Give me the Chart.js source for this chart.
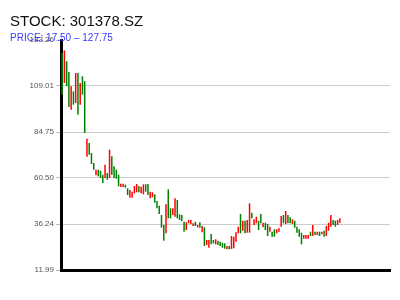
<!DOCTYPE html>
<html>
<head>
<meta charset="utf-8">
<script src="https://cdn.jsdelivr.net/npm/chart.js@4.4.1/dist/chart.umd.min.js"></script>
<style>
html,body{margin:0;padding:0;background:#fff;}
canvas{display:block;}
</style>
</head>
<body>
<canvas id="c" width="400" height="300"></canvas>
<script>
const titleText = "STOCK: 301378.SZ";
const subtitleText = "PRICE: 17.50 \u2013 127.75";
const yTicks = [11.99, 36.24, 60.50, 84.75, 109.01, 133.26];

// daily high / low prices, in trading-day order
const highs = [126.43,127.75,122.05,116.4,108.86,106.23,115.88,115.88,110.6,114.14,111.5,81.23,78.96,73.68,68.41,64.88,64.88,64.35,62.24,67.51,63.14,75.43,71.94,66.67,64.88,62.24,57.49,57.49,56.97,
55.07,54.17,53.27,56.28,57.34,56.28,55.91,57.18,57.18,57.34,53.27,52.96,51.9,48.37,45.89,40.99,35.71,46.63,54.54,44.52,44.52,49.79,48.9,41.36,40.99,37.45,37.14,38.35,38.35,36.61,37.45,35.71,37.14,35.19,34.5,
27.8,27.8,30.97,27.8,28.17,27.43,26.9,26.38,26.06,24.64,24.64,29.91,29.54,31.86,34.82,41.51,37.98,37.98,38.35,47.16,42.2,38.72,40.09,37.98,41.51,36.93,36.93,36.24,34.82,32.18,33.45,33.45,33.97,40.46,40.99,43.1,40.99,39.77,38.72,37.98,34.82,33.45,31.65,30.44,30.44,30.44,32.18,35.71,32.18,32.18,32.18,32.18,32.71,35.19,36.93,40.99,38.35,37.98,38.35,39.25];
const lows = [104.43,110.6,108.86,97.95,96.52,99.16,100.06,93.89,99.16,104.43,84.23,71.73,72.79,67.88,64.88,61.92,61.4,60.5,57.86,60.5,59.6,60.5,62.24,60.5,60.13,56.12,55.75,55.75,55.38,
51.53,50.11,50.11,52.43,52.96,52.96,52.43,51.9,53.27,51.53,49.79,50.32,47.47,44.52,41.51,34.29,27.43,31.34,39.25,39.25,40.99,40.09,39.25,38.35,37.82,32.18,33.08,36.61,36.24,35.19,35.19,34.5,34.29,31.86,24.64,
25.16,23.74,25.53,26.06,25.53,25.16,24.64,23.74,23.21,22.9,22.9,23.06,23.42,26.9,31.34,31.34,32.71,31.34,31.65,31.65,39.25,35.71,36.61,33.08,36.61,34.5,33.08,29.91,32.18,29.54,29.54,31.34,32.18,34.82,36.61,36.24,36.61,36.61,36.24,34.29,31.65,29.54,25.53,28.49,28.49,28.49,29.91,29.91,30.44,30.44,29.91,30.81,29.54,29.91,32.71,34.82,35.71,34.82,35.71,36.93];
// 1 = up day (red), 0 = down day (green)
const ups = [0,1,0,0,1,0,1,0,1,0,0,1,0,0,0,1,0,0,0,1,0,1,0,0,0,0,1,1,0,
0,1,1,1,1,0,1,1,0,0,1,1,0,0,0,0,0,1,0,0,1,1,0,0,0,0,1,1,1,1,0,1,0,1,0,
1,1,0,0,1,0,0,0,0,1,0,1,1,1,1,0,1,0,1,1,0,1,1,0,0,1,0,0,1,0,0,1,1,1,0,1,0,0,1,0,0,0,0,1,1,1,0,1,0,1,0,1,0,1,1,1,0,0,1,1];

const candles = highs.map((h, i) => ({x: i, y: [lows[i], h]}));
const colors = ups.map(u => u ? '#ff0000' : '#008000');

const textPlugin = {
  id: 'texts',
  afterDraw(chart) {
    const ctx = chart.ctx;
    ctx.save();
    ctx.textAlign = 'left';
    ctx.textBaseline = 'alphabetic';
    ctx.fillStyle = '#111';
    ctx.font = '15px "Liberation Sans", Arial, sans-serif';
    ctx.fillText(titleText, 10, 26);
    ctx.fillStyle = '#3a3aff';
    ctx.font = '10px "Liberation Sans", Arial, sans-serif';
    ctx.fillText(subtitleText, 10, 40.5);
    ctx.restore();
  }
};

new Chart(document.getElementById('c'), {
  type: 'bar',
  data: {
    datasets: [{
      data: candles,
      backgroundColor: colors,
      borderWidth: 0,
      inflateAmount: 0,
      barThickness: 1.5
    }]
  },
  options: {
    responsive: false,
    animation: false,
    layout: {padding: {top: 40, right: 10, left: 0, bottom: 0}},
    plugins: {legend: {display: false}, tooltip: {enabled: false}, title: {display: false}},
    scales: {
      x: {
        type: 'linear',
        offset: false,
        min: -0.5,
        max: 145.2,
        ticks: {display: false},
        grid: {display: false},
        border: {color: '#000', width: 3},
        afterFit(s) { s.height = 30; }
      },
      y: {
        min: yTicks[0],
        max: yTicks[yTicks.length - 1],
        afterBuildTicks(s) { s.ticks = yTicks.map(v => ({value: v})); },
        ticks: {
          callback: v => Number(v).toFixed(2),
          font: {size: 8, family: '"Liberation Sans", Arial, sans-serif'},
          color: '#555',
          padding: 2
        },
        grid: {
          color: c => (c.tick && c.tick.value === yTicks[yTicks.length - 1]) ? 'rgba(0,0,0,0)' : '#cccccc',
          tickColor: '#bbbbbb',
          tickLength: 5,
          lineWidth: 1
        },
        border: {color: '#000', width: 3},
        afterFit(s) { s.width = 61; }
      }
    }
  },
  plugins: [textPlugin]
});
</script>
</body>
</html>
